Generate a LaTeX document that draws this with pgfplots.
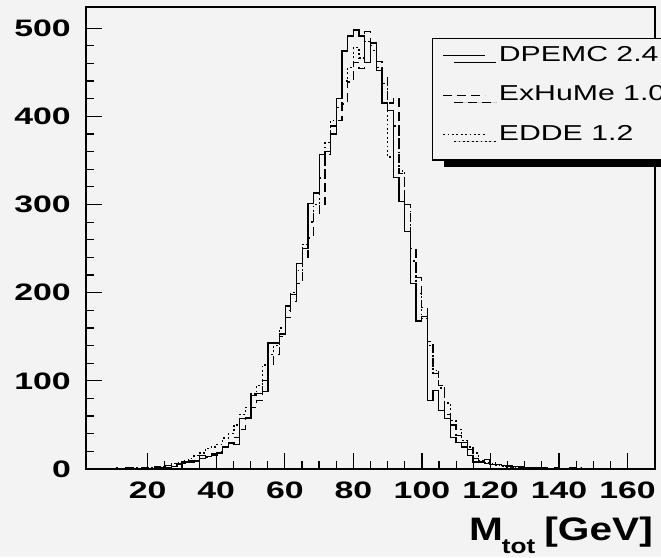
\documentclass[border=0pt]{standalone}
\usepackage{pgfplots}
\pgfplotsset{compat=1.18}
\usepackage{pgfplotstable}
\usetikzlibrary{shadows}
\usepackage{fontspec}
\setmainfont{Liberation Sans}
\newfontfamily\tickfont{Liberation Sans}[FakeStretch=1.42]
\newfontfamily\labfont{Liberation Sans}[FakeStretch=1.25]
\newfontfamily\legfont{Liberation Sans}[FakeStretch=1.4]
\definecolor{bg}{RGB}{243,243,243}

\pgfplotstableread{
x dpemc exhume edde
2.00 0 0 0
3.66 0 0 0
5.32 0 0 0
6.98 0 0 0
8.64 0 0 0
10.30 0 0 1
11.96 0 0 0
13.62 2 0 0
15.28 0 0 1
16.94 0 1 0
18.60 1 0 1
20.26 0 0 2
21.92 3 1 2
23.58 2 2 3
25.24 4 2 4
26.90 3 3 6
28.56 6 5 7
30.22 8 6 10
31.88 10 8 12
33.54 9 10 15
35.20 15 12 18
36.86 14 13 23
38.52 16 17 25
40.18 18 20 28
41.84 25 24 35
43.50 30 29 40
45.16 28 36 50
46.82 57 45 62
48.48 57 58 70
50.14 83 70 85
51.80 86 78 95
53.46 88 100 118
55.12 143 118 130
56.78 143 130 140
58.44 153 150 160
60.10 185 172 180
61.76 198 190 200
63.42 233 210 225
65.08 250 240 255
66.74 301 262 280
68.40 313 290 300
70.06 357 300 330
71.72 360 357 370
73.38 380 389 395
75.04 420 395 410
76.70 474 414 440
78.36 491 439 455
80.02 498 461 478
81.68 491 454 466
83.34 461 496 485
85.00 483 480 475
86.66 452 462 455
88.32 415 445 437
89.98 407 415 354
91.64 331 420 389
93.30 303 335 338
94.96 269 300 300
96.62 210 250 236
98.28 168 217 199
99.94 173 183 171
101.60 78 145 140
103.26 89 108 112
104.92 66 95 92
106.58 57 62 75
108.24 36 50 55
109.90 30 38 45
111.56 25 30 32
113.22 15 22 25
114.88 8 12 18
116.54 8 8 10
118.20 11 6 7
119.86 5 7 6
121.52 5 5 4
123.18 4 3 3
124.84 4 3 2
126.50 3 2 2
128.16 2 3 1
129.82 2 1 1
131.48 1 2 0
133.14 2 1 1
134.80 1 1 0
136.46 0 0 0
138.12 0 1 0
139.78 0 0 0
141.44 0 0 0
143.10 1 0 0
144.76 0 1 0
146.42 0 0 0
150.00 0 0 0
168.00 0 0 0
}\histdata

\begin{document}
\begin{tikzpicture}
\fill[bg] (0pt,0pt) rectangle (661pt,557pt);
\begin{axis}[
  at={(86pt,88pt)}, anchor=south west,
  scale only axis, width=569pt, height=462pt,
  xmin=2, xmax=168, ymin=0, ymax=524,
  xtick={20,40,...,160}, ytick={0,100,...,500},
  minor x tick num=3, minor y tick num=4,
  tick pos=left, tick align=inside,
  major tick length=16pt, minor tick length=8pt,
  tick style={line width=1.2pt, black},
  axis line style={line width=1.3pt},
  /pgf/number format/assume math mode=true,
  ticklabel style={font=\tickfont\bfseries\fontsize{23.8}{24}\selectfont, inner sep=0pt},
  yticklabel style={anchor=east, xshift=-15pt},
  xticklabel style={anchor=north, yshift=-13pt},
  xlabel={M\hspace{-1pt}\raisebox{-13pt}{\fontsize{21}{22}\selectfont tot}\hspace{9pt}[GeV]},
  xlabel style={at={(rel axis cs:1,0)}, anchor=base east, inner sep=0pt, xshift=-2pt, yshift=-71pt,
    font=\labfont\bfseries\fontsize{32.5}{34}\selectfont},
  legend cell align=left,
  legend image code/.code={\path (0pt,0pt) (42pt,0pt); \draw[#1] (0pt,4pt) -- (42pt,4pt);},
  legend style={at={(rel axis cs:0.608,0.933)}, anchor=north west,
    draw=black, line width=1.3pt, fill=bg,
    font=\legfont\fontsize{21.6}{24}\selectfont,
    inner xsep=10pt, inner ysep=7pt, row sep=11pt, column sep=13pt,
    nodes={inner sep=0pt, text height=15.5pt, text depth=13pt},
    drop shadow={shadow xshift=11pt, shadow yshift=-7pt, fill=black, opacity=1}},
]
\addplot[const plot, black, line width=1.3pt] table[x=x, y=dpemc] {\histdata};
\addlegendentry{DPEMC 2.4}
\addplot[const plot, black, line width=1.3pt, dash pattern=on 9pt off 5pt] table[x=x, y=exhume] {\histdata};
\addlegendentry{ExHuMe 1.0}
\addplot[const plot, black, line width=1.3pt, dash pattern=on 1.8pt off 2.6pt] table[x=x, y=edde] {\histdata};
\addlegendentry{EDDE 1.2}
\end{axis}
\pgfresetboundingbox
\useasboundingbox (0pt,0pt) rectangle (661pt,557pt);
\end{tikzpicture}
\end{document}
